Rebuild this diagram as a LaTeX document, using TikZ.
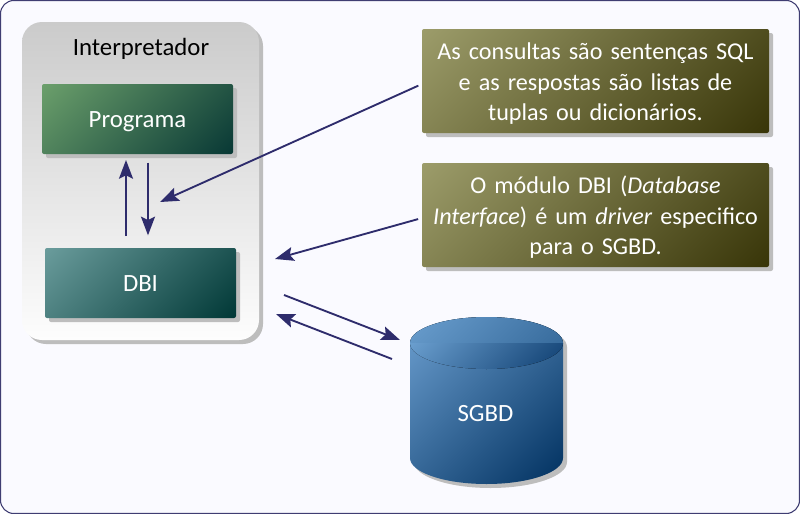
\documentclass[tikz,border=0pt]{standalone}
\usepackage{fontspec}
\setmainfont[WordSpace=0.8]{Carlito}
\usetikzlibrary{arrows.meta, calc, shadows}
\definecolor{ink}{HTML}{2E2C6C}
\definecolor{frame}{HTML}{3F3D72}
\definecolor{paper}{HTML}{FAFAFF}
\definecolor{sombra}{HTML}{BDBDBD}
\definecolor{grupotop}{HTML}{CBCBCB}
\definecolor{grupobase}{HTML}{FDFDFD}
% diagonal fills: the stops keep the end colours on the corners
\newcommand{\diagshade}[3]{%
  \definecolor{tmpa}{HTML}{#2}\definecolor{tmpb}{HTML}{#3}%
  \pgfdeclareverticalshading{#1}{100bp}{color(0bp)=(tmpb); color(14.6bp)=(tmpb);
    color(85.4bp)=(tmpa); color(100bp)=(tmpa)}}
\diagshade{verde}{6B9F6B}{083835}
\diagshade{teal}{6A9C9C}{003836}
\diagshade{oliva}{9C9C6A}{383508}
\diagshade{azul}{6C9FD0}{00305F}
\diagshade{capa}{6A9ECE}{376B9C}
\diagshade{aba}{6A9ECE}{0E3E70}
\tikzset{
  font=\fontsize{18.6}{22}\selectfont,
  seta/.style={draw=ink, line width=1.4pt, -{Stealth[length=14pt, width=10.5pt, inset=2.5pt]}},
  sombreado/.style={drop shadow={shadow xshift=3pt, shadow yshift=-3pt, fill=sombra, opacity=1}},
  grupo/.style={sombreado, rounded corners=15pt, top color=grupotop, bottom color=grupobase,
                minimum width=177.75pt, minimum height=238.5pt, inner sep=0pt, outer sep=0pt},
  caixa/.style={sombreado, rounded corners=1.5pt, text=white, align=center, inner sep=0pt, outer sep=0pt},
  modulo/.style={caixa, minimum width=143.25pt, minimum height=52.5pt, text height=12pt, text depth=0pt},
  nota/.style={caixa, shading=oliva, shading angle=45, minimum width=260.25pt, minimum height=78pt,
               text width=255pt, font=\fontsize{18.1}{22.8}\selectfont,
               execute at begin node=\rule{0pt}{17pt}},
}
\begin{document}
\begin{tikzpicture}[x=0.75pt, y=-0.75pt]

  \useasboundingbox (0,0) rectangle (800,514);
  \fill[white] (0,0) rectangle (800,514);
  \draw[draw=frame, fill=paper, line width=0.8pt, rounded corners=10pt] (0.5,0.5) rectangle (799.5,513.5);

  \node[grupo] (interp) at (140.5,181) {};
  \node[text=black] (titulo) at (141,49) {Interpretador};
  \node[modulo, shading=verde, shading angle=45] (prog) at (137.5,119) {Programa};
  \node[modulo, shading=teal, shading angle=45] (dbi) at (140.5,283) {DBI};

  \node[nota] (notasql) at (595.5,81)
    {As consultas são sentenças SQL\\e as respostas são listas de\\tuplas ou dicionários.};
  \node[nota] (notadbi) at (595.5,215)
    {O módulo DBI (\emph{Database}\\\emph{Interface}) é um \emph{driver} especifico\\para o SGBD.};

  % the cylinder: body, then the two halves of its top
  \path[sombreado, shading=azul, shading angle=45] (410,343)
    arc[x radius=76.5, y radius=-26, start angle=180, end angle=0] -- (563,458)
    arc[x radius=76.5, y radius=26, start angle=0, end angle=180] -- cycle;
  \fill[shading=capa, shading angle=45] (410,343) arc[x radius=76.5, y radius=-26, start angle=180, end angle=0] -- cycle;
  \fill[shading=aba, shading angle=45] (410,343) arc[x radius=76.5, y radius=26, start angle=180, end angle=0] -- cycle;
  \node[text=white] (sgbd) at (485.5,414) {SGBD};

  \coordinate (subida) at (126,200);
  \coordinate (descida) at (148,200);
  \coordinate (alvosql) at (160,202);
  \coordinate (alvodbi) at (275,259);
  \coordinate (saida) at (284,295);
  \coordinate (chegada) at (400,340);
  \coordinate (retorno) at (392,359);
  \coordinate (volta) at (276,314);

  \draw[seta, shorten <=9pt, shorten >=4.5pt] (subida |- dbi.north) -- (subida |- prog.south);
  \draw[seta, shorten <=6.5pt, shorten >=9.5pt] (descida |- prog.south) -- (descida |- dbi.north);
  \draw[seta, shorten <=3pt] ([yshift=-2.25pt]notasql.west) -- (alvosql);
  \draw[seta, shorten <=3pt] ([yshift=-2.25pt]notadbi.west) -- (alvodbi);
  \draw[seta] (saida) -- (chegada);
  \draw[seta] (retorno) -- (volta);

\end{tikzpicture}
\end{document}
